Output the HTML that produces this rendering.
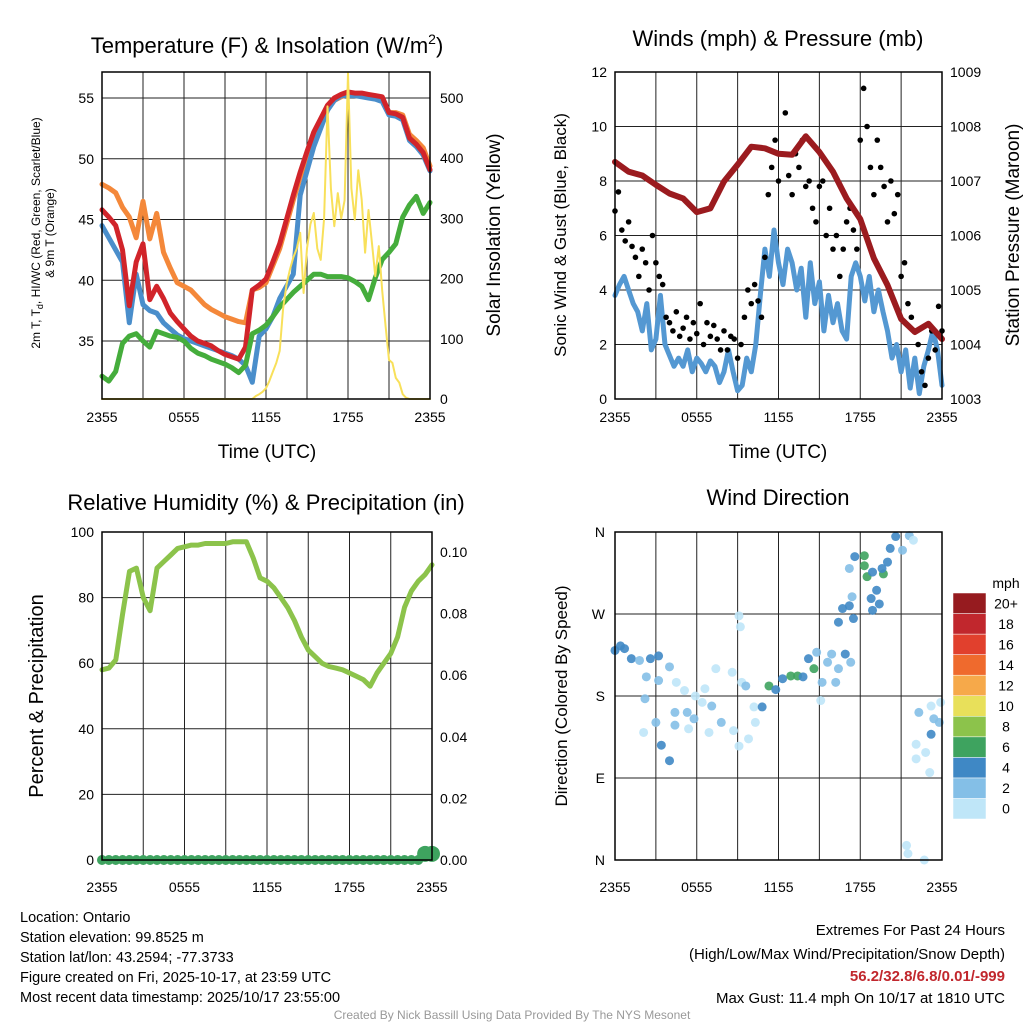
<!DOCTYPE html>
<html><head><meta charset="utf-8"><style>
html,body{margin:0;padding:0;background:#fff;}
svg{display:block;font-family:"Liberation Sans",sans-serif;}
</style></head><body>
<svg id="chart" width="1024" height="1024" viewBox="0 0 1024 1024" xmlns="http://www.w3.org/2000/svg">
<rect width="1024" height="1024" fill="#fff"/>
<text x="267" y="53" font-size="22" text-anchor="middle">Temperature (F) &amp; Insolation (W/m<tspan font-size="14" dy="-9">2</tspan><tspan dy="9">)</tspan></text>
<text x="778" y="46" font-size="22" text-anchor="middle">Winds (mph) &amp; Pressure (mb)</text>
<text x="266" y="510" font-size="22" text-anchor="middle">Relative Humidity (%) &amp; Precipitation (in)</text>
<text x="778" y="505" font-size="22" text-anchor="middle">Wind Direction</text>

<text x="267" y="458" font-size="19" text-anchor="middle">Time (UTC)</text>
<text x="778" y="458" font-size="19" text-anchor="middle">Time (UTC)</text>
<text transform="translate(40,233) rotate(-90)" font-size="12" text-anchor="middle">2m T, T<tspan font-size="9" dy="3">d</tspan><tspan dy="-3">, HI/WC (Red, Green, Scarlet/Blue)</tspan></text>
<text transform="translate(54,233) rotate(-90)" font-size="12" text-anchor="middle">&amp; 9m T (Orange)</text>
<text transform="translate(500,235) rotate(-90)" font-size="19" text-anchor="middle">Solar Insolation (Yellow)</text>
<text transform="translate(566,235) rotate(-90)" font-size="17" text-anchor="middle">Sonic Wind &amp; Gust (Blue, Black)</text>
<text transform="translate(1019,235) rotate(-90)" font-size="19" text-anchor="middle">Station Pressure (Maroon)</text>
<text transform="translate(43,696) rotate(-90)" font-size="20" text-anchor="middle">Percent &amp; Precipitation</text>
<text transform="translate(567,696) rotate(-90)" font-size="17" text-anchor="middle">Direction (Colored By Speed)</text>

<g font-size="14.5">
<text x="20" y="922">Location: Ontario</text>
<text x="20" y="942">Station elevation: 99.8525 m</text>
<text x="20" y="962">Station lat/lon: 43.2594; -77.3733</text>
<text x="20" y="982">Figure created on Fri, 2025-10-17, at 23:59 UTC</text>
<text x="20" y="1002">Most recent data timestamp: 2025/10/17 23:55:00</text>
</g>
<g font-size="15" text-anchor="end">
<text x="1005" y="935">Extremes For Past 24 Hours</text>
<text x="1005" y="959">(High/Low/Max Wind/Precipitation/Snow Depth)</text>
<text x="1005" y="981" fill="#c1272d" font-weight="bold">56.2/32.8/6.8/0.01/-999</text>
<text x="1005" y="1003">Max Gust: 11.4 mph On 10/17 at 1810 UTC</text>
</g>
<text x="512" y="1019" font-size="12" fill="#999" text-anchor="middle">Created By Nick Bassill Using Data Provided By The NYS Mesonet</text>
</svg>
<script>
// ---------- data ----------
const xTickLabels = ["2355","0555","1155","1755","2355"];
const tempTicks = [35,40,45,50,55];
const solarTicks = [0,100,200,300,400,500];
const windTicks = [0,2,4,6,8,10,12];
const presTicks = [1003,1004,1005,1006,1007,1008,1009];
const rhTicks = [0,20,40,60,80,100];
const precipTicks = [0,0.02,0.04,0.06,0.08,0.10];
const dirTicks = ["N","E","S","W","N"];
const speedBins = ["0","2","4","6","8","10","12","14","16","18","20+"];

const temp2m = [45.8,45.2,44.5,42.5,37.9,41.5,43,38.4,39.5,38.5,37.3,36.6,36,35.4,35,34.8,34.6,34.2,33.9,33.7,33.5,34.5,39.2,39.6,40.1,41.5,43,45,47,48.9,50.6,52.2,53.3,54.4,55,55.3,55.5,55.4,55.4,55.3,55.2,55.1,53.8,53.7,53.4,51.7,51.2,50.5,49.1];
const heatIndex = [44.5,43.5,42.5,41.5,36.5,40.5,38,37.5,37.3,36.5,36,35.5,35.2,35,34.8,34.6,34.4,34.2,34,33.8,33.5,33,31.6,35.4,36,37,38.5,39.5,40.5,47,49,51,52.5,54,54.8,55.2,55.2,55.2,55.1,55,54.9,54.7,53.6,53.5,53.2,51.5,51,50.3,49];
const temp9m = [47.9,47.6,47.2,46,45.2,43.5,46.5,43.4,45.5,42.3,41,39.8,39.5,39.2,38.6,38,37.6,37.3,37,36.8,36.6,36.5,39.2,39.4,39.8,41.2,42.6,44.6,46.6,48.5,50.2,51.8,53,54.1,54.8,55.1,55.3,55.2,55.2,55.1,55,54.9,53.8,53.8,53.6,52,51.5,50.9,49.4];
const dewpoint = [32.1,31.7,32.5,34.8,35.4,35.6,35,34.5,35.8,35.6,35.4,35.3,35,34.4,34,33.8,33.5,33.3,33.1,32.8,32.4,33,35.6,35.9,36.3,37,37.8,38.4,39,39.5,40,40.5,40.5,40.3,40.3,40.3,40.2,39.9,39.5,38.4,40.2,41.7,42.3,43,45.2,46.2,46.9,45.5,46.4];
const solar = [0,0,0,0,0,0,0,0,0,0,0,0,0,0,0,0,0,0,0,0,0,0,0,0,0,0,0,0,0,0,0,0,0,0,0,0,0,0,0,0,0,0,0,0,0,5,8,12,18,30,45,60,80,150,190,215,235,250,276,176,250,290,309,250,231,300,486,350,287,342,300,330,541,350,298,380,331,243,314,260,204,254,180,121,65,60,35,27,8,2,0,0,0,0,0,0,0];

const windSpeed = [3.8,4.2,4.5,4,3.5,3.2,2.5,3.5,1.8,2.2,3.8,2,1.6,1.2,1.5,1.2,1.8,1,1.5,1.3,1,1.4,1.2,0.6,1,1.8,1,0.3,0.5,1.5,1,2,3.8,5.5,4.5,6.2,5,4.2,5.5,5,4,4.8,3,5,3.5,4.3,2.5,3.8,2.8,3.5,2.5,2.2,4.5,5,4.5,3.6,4.5,3.2,4,3.2,2.5,1.5,2,1,1.8,0.4,1.5,0.2,1.2,1.8,2.5,1.8,0.5];
const windGust = [6.9,7.6,6.2,5.8,6.5,5.6,5.2,4.5,5.5,5,4,6,5,4.5,4.2,3,2.8,2.5,3.2,2.3,2.6,3,2.2,2.8,2.4,3.5,2,2.8,2.3,2.7,2.2,1.8,2.5,1.8,2.3,2.2,1.5,2,3,4,3.5,4.2,3.6,3,5.2,7.5,8.5,9.5,8,9,10.5,8.2,7.5,9,8.5,9.5,7.8,8,7,6.5,7.8,8,6,7,5.5,6,4.5,5.5,6.5,7,6.2,5.5,9.5,11.4,10,8.5,7.5,9.5,8.5,7.8,6.5,8,6.8,7.5,4.5,5,3.5,3,2.5,2,1,0.5,1.5,2.5,1.8,3.4,2.5];
const pressure = [1007.35,1007.17,1007.1,1006.93,1006.77,1006.68,1006.43,1006.5,1006.99,1007.3,1007.63,1007.6,1007.5,1007.48,1007.82,1007.53,1007.17,1006.68,1006.3,1005.58,1005.09,1004.47,1004.23,1004.38,1004.1];

const rh = [58,58.5,61,75,88,89,80,76,89,91,93,95,95.5,96,96,96.5,96.5,96.5,96.5,97,97,97,92,86,85,83,80,77,73,68,64,62,60,59,58.5,58,57,56,55,53,57,60,63,68,77,82,85,87,90];
const precip = [0,0,0,0,0,0,0,0,0,0,0,0,0,0,0,0,0,0,0,0,0,0,0,0,0,0,0,0,0,0,0,0,0,0,0,0,0,0,0,0,0,0,0,0,0,0,0,0.002,0.002];

const dirHours = [0,0.4,0.7,1.2,1.8,2.6,3.2,4,2.3,3.2,4.5,5.1,5.9,6.6,7.4,8.6,9.3,2.2,3,3.4,4,2.1,4.4,5.3,5.8,4.4,5.4,6.9,7.8,7.1,6.4,8.7,9.1,9.8,9.1,9.2,9.6,10.2,10.8,10.3,11.3,11.8,12.3,12.9,13.4,13.8,14.2,14.6,14.8,15.2,15.6,15.9,16.2,16.4,16.9,17.3,15.1,16.4,16.7,17.2,17.5,17.4,17.6,17.2,18.3,18.5,18.3,18.9,19.2,18.8,18.9,19.4,19.7,19.6,20,20.2,20.6,21.1,21.6,21.9,21.4,21.5,22.7,22.3,23.2,23.4,23.8,23.2,22.1,22.1,22.8,23.1,23.9];
const dirDegrees = [230,235,232,221,219,221,224,212,201,197,195,186,180,188,210,206,195,177,151,126,109,140,162,162,155,148,144,140,151,169,173,142,125,133,268,256,191,168,168,151,191,187,199,202,202,201,221,210,228,195,217,226,195,210,226,217,175,261,276,279,265,289,333,320,334,311,323,316,296,287,274,281,314,320,327,342,355,340,356,351,16,7,0,162,169,155,151,138,127,111,118,96,173];
const dirSpeeds = [4,4,4,4,3,4,4,3,3,3,1,1,0,1,0,0,1,3,3,4,4,0,3,3,3,2,0,0,2,2,1,1,0,0,0,0,2,1,4,1,6,4,4,6,6,4,4,6,2,3,2,3,2,2,4,2,0,4,4,4,4,2,4,2,6,6,6,4,4,4,4,4,6,4,4,4,4,2,2,0,0,0,0,3,0,3,3,4,0,0,0,0,0];
const speedColors = ["#bfe6f8","#84bfe7","#3f88c5","#3ea35f","#8cc34b","#e8e05a","#f6a94a","#ef6a2d","#e1402d","#c1272d","#961b1f"];

// ---------- helpers ----------
const svg = document.getElementById('chart');
const NS = 'http://www.w3.org/2000/svg';
function mk(tag, attrs, parent){
  const e = document.createElementNS(NS, tag);
  for (const k in attrs) e.setAttribute(k, attrs[k]);
  (parent||svg).appendChild(e);
  return e;
}
function lin(d0,d1,r0,r1){ return v => r0 + (v-d0)*(r1-r0)/(d1-d0); }
function timeX(x0,x1){ return lin(0,24,x0,x1); }
function seriesPath(vals, xs, ys, hours){
  const span = hours===undefined ? 24 : hours;
  return vals.map((v,i)=>(i?'L':'M')+xs(i*span/(vals.length-1)).toFixed(1)+','+ys(v).toFixed(1)).join(' ');
}
function frame(x0,y0,x1,y1,name){
  const g = mk('g',{});
  
  
  for (let i=0;i<=8;i++){
    const x = x0 + i*(x1-x0)/8;
    mk('line',{x1:x,y1:y0,x2:x,y2:y1,stroke:'#222','stroke-width':1},g);
  }
  return g;
}
function hgrid(g,x0,x1,y){ mk('line',{x1:x0,y1:y,x2:x1,y2:y,stroke:'#222','stroke-width':1},g); }
function border(x0,y0,x1,y1,name){
  const r = mk('rect',{x:x0,y:y0,width:x1-x0,height:y1-y0,fill:'none',stroke:'#000','stroke-width':1.5});
  
  
}
function xlabels(x0,x1,y,name){
  const xs = lin(0,4,x0,x1);
  xTickLabels.forEach((t,i)=>{
    const e = mk('text',{x:xs(i),y:y,'font-size':14,'text-anchor':'middle'});
    e.textContent = t;
    
    
  });
}
function ylabels(ticks, ys, x, anchor, name, fmt){
  ticks.forEach(t=>{
    const e = mk('text',{x:x,y:ys(t)+5,'font-size':14,'text-anchor':anchor});
    e.textContent = fmt ? fmt(t) : t;
    
    
  });
}
function line(d, color, w, name){
  const p = mk('path',{d:d,fill:'none',stroke:color,'stroke-width':w,'stroke-linejoin':'round','stroke-linecap':'round'});
  
  
  return p;
}

// ---------- Panel 1: temperature ----------
(function(){
  const x0=102,x1=430,y0=72,y1=399;
  const xs = timeX(x0,x1);
  const ys = lin(35,55,341,98);
  const ysr = lin(0,500,399,98);
  const g = frame(x0,y0,x1,y1,'temp');
  tempTicks.forEach(t=>hgrid(g,x0,x1,ys(t)));
  line(seriesPath(temp9m,xs,ys),'#f4883a',5,'temp-9m-line');
  line(seriesPath(heatIndex,xs,ys),'#4a8ecb',5,'heat-index-line');
  line(seriesPath(temp2m,xs,ys),'#d1242a',5,'temp-2m-line');
  line(seriesPath(dewpoint,xs,ys),'#45ad3c',5,'dewpoint-line');
  line(seriesPath(solar,xs,ysr),'#f8e05a',2,'solar-line');
  border(x0,y0,x1,y1,'temp');
  xlabels(x0,x1,422,'temp');
  ylabels(tempTicks,ys,x0-8,'end','temp-y');
  ylabels(solarTicks,ysr,x1+10,'start','solar-y');
})();

// ---------- Panel 2: winds ----------
(function(){
  const x0=615,x1=942,y0=72,y1=399;
  const xs = timeX(x0,x1);
  const ys = lin(0,12,y1,y0);
  const ysr = lin(1003,1009,y1,y0);
  const g = frame(x0,y0,x1,y1,'wind');
  windTicks.forEach(t=>hgrid(g,x0,x1,ys(t)));
  line(seriesPath(windSpeed,xs,ys),'#5498d2',5,'wind-speed-line');
  const gg = mk('g',{});
  
  
  windGust.forEach((v,i)=>{
    const c = mk('circle',{cx:xs(i*24/(windGust.length-1)),cy:ys(v),r:2.8,fill:'#000'},gg);
    
    
  });
  line(seriesPath(pressure,xs,ysr),'#9b1b1f',6,'pressure-line');
  border(x0,y0,x1,y1,'wind');
  xlabels(x0,x1,422,'wind');
  ylabels(windTicks,ys,x0-8,'end','wind-y');
  ylabels(presTicks,ysr,x1+8,'start','pressure-y');
})();

// ---------- Panel 3: RH ----------
(function(){
  const x0=102,x1=432,y0=532,y1=860;
  const xs = timeX(x0,x1);
  const ys = lin(0,100,y1,y0);
  const ysr = lin(0,0.10,y1,552);
  const g = frame(x0,y0,x1,y1,'rh');
  rhTicks.forEach(t=>hgrid(g,x0,x1,ys(t)));
  line(seriesPath(rh,xs,ys),'#8cc34b',5,'rh-line');
  line(seriesPath(precip,xs,ysr),'#3ea35f',6,'precip-line');
  const pg = mk('g',{});
  
  
  precip.forEach((v,i)=>{
    const c = mk('circle',{cx:xs(i*24/(precip.length-1)),cy:ysr(v),r:v>0?8:5,fill:'#3ea35f'},pg);
    
    
  });
  border(x0,y0,x1,y1,'rh');
  xlabels(x0,x1,892,'rh');
  ylabels(rhTicks,ys,x0-8,'end','rh-y');
  ylabels(precipTicks,ysr,x1+8,'start','precip-y',t=>t.toFixed(2));
})();

// ---------- Panel 4: wind direction ----------
(function(){
  const x0=615,x1=942,y0=532,y1=860;
  const xs = timeX(x0,x1);
  const ys = lin(0,360,y1,y0);
  const g = frame(x0,y0,x1,y1,'dir');
  [0,90,180,270,360].forEach(t=>hgrid(g,x0,x1,ys(t)));
  const dg = mk('g',{});
  
  
  dirDegrees.forEach((d,i)=>{
    const c = mk('circle',{cx:xs(dirHours[i]),cy:ys(d),r:4.5,fill:speedColors[Math.min(10,Math.floor(dirSpeeds[i]/2))],opacity:0.9},dg);
    
    
  });
  border(x0,y0,x1,y1,'dir');
  xlabels(x0,x1,892,'dir');
  dirTicks.forEach((t,i)=>{
    const e = mk('text',{x:x0-10,y:ys(i*90)+5,'font-size':14,'text-anchor':'end'});
    e.textContent = t;
    
    
  });
  const cb = mk('g',{});
  
  
  const bh=(819-593)/speedBins.length;
  speedBins.forEach((lbl,i)=>{
    const yy = 819 - (i+1)*bh;
    const r = mk('rect',{x:953,y:yy,width:33,height:bh,fill:speedColors[i],stroke:'#fff','stroke-width':0.5},cb);
    
    
    const t = mk('text',{x:1006,y:yy+bh/2+5,'font-size':14,'text-anchor':'middle'},cb);
    t.textContent = lbl;
    
    
  });
  const u = mk('text',{x:1006,y:588,'font-size':14,'text-anchor':'middle'},cb);
  u.textContent = 'mph';
  
  
})();
</script>
</body></html>
